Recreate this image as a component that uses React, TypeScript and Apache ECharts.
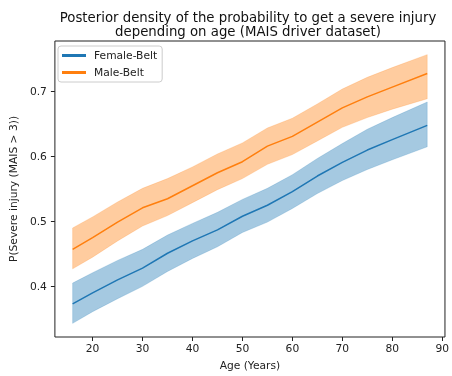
import React, { useEffect, useRef } from "react";
import * as echarts from "echarts";

const ages = [16, 20, 25, 30, 35, 40, 45, 50, 55, 60, 65, 70, 75, 80, 87];

const femaleMean = [0.373, 0.39, 0.41, 0.428, 0.451, 0.47, 0.487, 0.508, 0.525, 0.546, 0.57, 0.591, 0.61, 0.626, 0.648];
const femaleUpper = [0.405, 0.421, 0.44, 0.457, 0.479, 0.497, 0.514, 0.534, 0.551, 0.572, 0.597, 0.62, 0.642, 0.66, 0.684];
const femaleLower = [0.343, 0.361, 0.381, 0.4, 0.423, 0.443, 0.461, 0.483, 0.499, 0.52, 0.543, 0.563, 0.58, 0.595, 0.615];

const maleMean = [0.457, 0.475, 0.499, 0.521, 0.535, 0.555, 0.575, 0.592, 0.616, 0.631, 0.653, 0.675, 0.692, 0.707, 0.728];
const maleUpper = [0.49, 0.507, 0.53, 0.551, 0.566, 0.584, 0.604, 0.621, 0.644, 0.659, 0.681, 0.704, 0.722, 0.737, 0.757];
const maleLower = [0.427, 0.445, 0.47, 0.493, 0.509, 0.529, 0.549, 0.566, 0.588, 0.603, 0.624, 0.645, 0.66, 0.673, 0.689];

const xTicks = [20, 30, 40, 50, 60, 70, 80, 90];
const yTicks = [0.4, 0.5, 0.6, 0.7];

const FONT = "DejaVu Sans";
const FS = 10.7;
const BLUE = "#1f77b4";
const ORANGE = "#ff7f0e";

function pairs(xs: number[], ys: number[]) {
  return xs.map((x, i) => [x, ys[i]]);
}

function bandSeries(name: string, lower: number[], upper: number[], color: string) {
  return {
    name,
    type: "custom",
    silent: true,
    z: 1,
    data: ages.map((x, i) => [x, lower[i], upper[i]]),
    encode: { x: 0, y: [1, 2] },
    renderItem: (params: any, api: any) => {
      if (params.dataIndex !== 0) return null;
      const top = ages.map((x, i) => api.coord([x, upper[i]]));
      const bottom = ages.map((x, i) => api.coord([x, lower[i]])).reverse();
      return {
        type: "polygon",
        shape: { points: top.concat(bottom) },
        style: { fill: color, opacity: 0.4, stroke: color, lineWidth: 0.5 },
      };
    },
  };
}

export default function App() {
  const ref = useRef<HTMLDivElement>(null);
  useEffect(() => {
    if (!ref.current) return;
    const chart = echarts.init(ref.current, undefined, { renderer: "svg" });
    chart.setOption({
      animation: false,
      textStyle: { fontFamily: FONT },
      grid: {
        left: 53,
        right: 3,
        top: 41,
        bottom: 38,
        show: true,
        borderColor: "#222",
        borderWidth: 1,
        backgroundColor: "transparent",
      },
      graphic: [
        {
          type: "text",
          x: 248,
          y: 10,
          style: {
            text: "Posterior density of the probability to get a severe injury\ndepending on age (MAIS driver dataset)",
            textAlign: "center",
            fontFamily: FONT,
            fontSize: 13.3,
            lineHeight: 14,
            fill: "#111",
          },
        },
      ],
      legend: {
        data: [
          { name: "Female-Belt", icon: "rect" },
          { name: "Male-Belt", icon: "rect" },
        ],
        orient: "vertical",
        left: 58,
        top: 46,
        itemWidth: 24,
        itemHeight: 3,
        itemGap: 6,
        padding: [4, 5, 4, 4],
        borderColor: "#ccc",
        borderWidth: 1,
        borderRadius: 3,
        backgroundColor: "rgba(255,255,255,0.8)",
        textStyle: { fontFamily: FONT, fontSize: FS, color: "#222", padding: [0, 0, 0, 3] },
      },
      xAxis: {
        type: "value",
        min: 12.45,
        max: 90.55,
        name: "Age (Years)",
        nameLocation: "middle",
        nameGap: 23,
        nameTextStyle: { fontFamily: FONT, fontSize: FS, color: "#222" },
        axisLine: { show: false },
        axisTick: { show: true, customValues: xTicks, length: 4, lineStyle: { color: "#222" } },
        axisLabel: { customValues: xTicks, margin: 6, fontFamily: FONT, fontSize: FS, color: "#222" },
        splitLine: { show: false },
      },
      yAxis: {
        type: "value",
        min: 0.322,
        max: 0.778,
        name: "P(Severe injury (MAIS > 3))",
        nameLocation: "middle",
        nameGap: 31,
        nameTextStyle: { fontFamily: FONT, fontSize: FS, color: "#222" },
        axisLine: { show: false },
        axisTick: { show: true, customValues: yTicks, length: 4, lineStyle: { color: "#222" } },
        axisLabel: {
          customValues: yTicks,
          margin: 8,
          fontFamily: FONT,
          fontSize: FS,
          color: "#222",
          formatter: (v: number) => v.toFixed(1),
        },
        splitLine: { show: false },
      },
      series: [
        bandSeries("F-band", femaleLower, femaleUpper, BLUE),
        {
          name: "Female-Belt",
          type: "line",
          data: pairs(ages, femaleMean),
          symbol: "none",
          color: BLUE,
          lineStyle: { color: BLUE, width: 1.5 },
          z: 3,
        },
        bandSeries("M-band", maleLower, maleUpper, ORANGE),
        {
          name: "Male-Belt",
          type: "line",
          data: pairs(ages, maleMean),
          symbol: "none",
          color: ORANGE,
          lineStyle: { color: ORANGE, width: 1.5 },
          z: 3,
        },
      ],
    });
    return () => chart.dispose();
  }, []);
  return <div ref={ref} style={{ position: "fixed", left: 0, top: 0, width: 452, height: 376 }} />;
}
